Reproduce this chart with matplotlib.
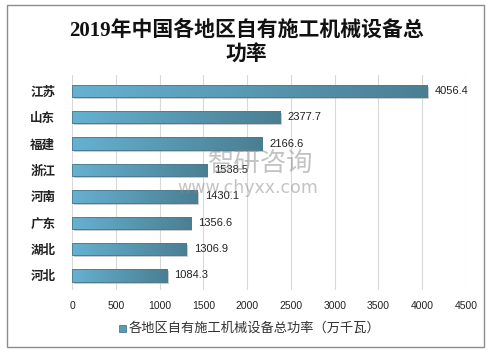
import matplotlib
matplotlib.use("Agg")
import matplotlib.pyplot as plt
import numpy as np
from matplotlib import patheffects as pe
from matplotlib.colors import LinearSegmentedColormap
from matplotlib.patches import Rectangle

plt.rcParams['font.family'] = ['Liberation Sans', 'Noto Sans CJK SC']

title = "2019年中国各地区自有施工机械设备总\n功率"
regions = ["江苏", "山东", "福建", "浙江", "河南", "广东", "湖北", "河北"]
values = [4056.4, 2377.7, 2166.6, 1538.5, 1430.1, 1356.6, 1306.9, 1084.3]
xticks = [0, 500, 1000, 1500, 2000, 2500, 3000, 3500, 4000, 4500]
legend_label = "各地区自有施工机械设备总功率（万千瓦）"

fig = plt.figure(figsize=(4.9, 3.52), dpi=100)
fig.patches.append(Rectangle((7/490, 5/352), 477/490, 342/352, transform=fig.transFigure,
                             fill=False, edgecolor='#8c8c8c', linewidth=1.0))
ax = fig.add_axes([72/490, 62/352, 394/490, 215/352])

cmap = LinearSegmentedColormap.from_list("g", ["#66b1d1", "#4a7f93"])
grad = np.linspace(0, 1, 256).reshape(1, -1)

y = np.arange(len(regions))
bars = ax.barh(y, values, height=0.47, color='#5a9ab4', edgecolor='#4a7a8e', linewidth=0.6, zorder=2)
for b in bars:
    b.set_path_effects([pe.SimplePatchShadow(offset=(1.2, -1.5), shadow_rgbFace='#999999', alpha=0.5), pe.Normal()])
    x0, y0, w, h = b.get_x(), b.get_y(), b.get_width(), b.get_height()
    im = ax.imshow(grad, extent=(x0, x0 + w, y0, y0 + h), aspect='auto', cmap=cmap, zorder=3)
    im.set_clip_path(b)
    ax.add_patch(Rectangle((x0, y0), w, h, fill=False, edgecolor='#4d7b8d', linewidth=0.6, zorder=4))

for yi, v in zip(y, values):
    ax.text(v + 85, yi, f"{v:.1f}", va='center', ha='left', fontsize=8, color='#222222', zorder=5)

ax.set_xlim(0, 4500)
ax.set_ylim(len(regions) - 0.45, -0.6)
ax.set_xticks(xticks)
ax.set_xticklabels([str(t) for t in xticks], fontsize=7.5, color='#222222')
ax.set_yticks(y)
ax.set_yticklabels(regions, fontsize=9, fontweight='bold', color='#222222',
                   family=['Noto Sans CJK SC'])
ax.tick_params(axis='both', length=0, pad=8)
ax.tick_params(axis='y', pad=12)
ax.grid(axis='x', color='#d9d9d9', linewidth=0.8, zorder=0)
ax.set_axisbelow(True)
for s in ax.spines.values():
    s.set_visible(False)

fig.text(246/490, 1 - 43/352, title, ha='center', va='center', fontsize=15, fontweight='bold',
         family=['Liberation Serif', 'Noto Sans CJK SC'], linespacing=1.3, color='#111111')

# legend
lx = 129/490
ly = 1 - 328/352
fig.patches.append(Rectangle((lx - 10/490, ly - 3.5/352), 7/490, 7/352, transform=fig.transFigure,
                             facecolor='#5a9ab4', edgecolor='#4a7a8e', linewidth=0.6))
fig.text(lx, ly, legend_label, ha='left', va='center', fontsize=9.5, color='#333333',
         family=['Noto Sans CJK SC'])

# watermark
fig.text(208/490, 1 - 163/352, "智研咨询", ha='left', va='center', fontsize=19, color='#888888', alpha=0.5,
         family=['Noto Sans CJK SC'])
fig.text(177/490, 1 - 188/352, "www.chyxx.com", ha='left', va='center', fontsize=12.5, color='#888888', alpha=0.5,
         family=['DejaVu Sans'])

fig.savefig("out.png", dpi=100)
